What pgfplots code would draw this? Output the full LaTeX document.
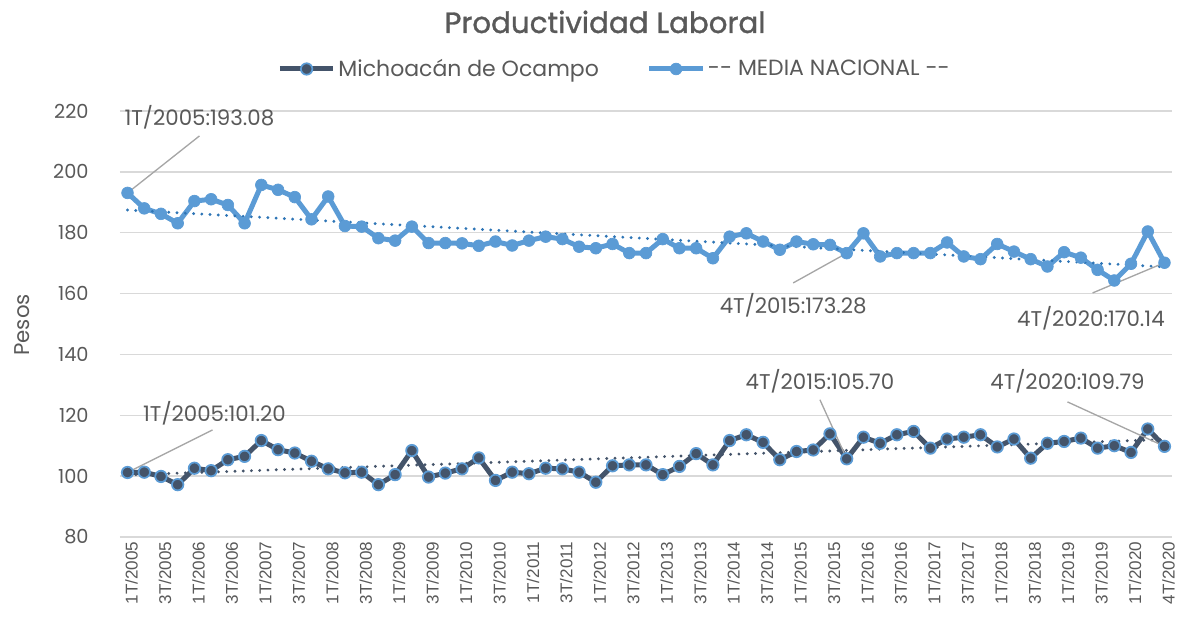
\documentclass[border=0pt]{standalone}
\usepackage{fontspec}
\setmainfont{Liberation Sans}
\newfontfamily\popp{Poppins}
\newfontfamily\poppt[FakeBold=1.2]{Poppins}
\usepackage{pgfplots}
\usepackage{pgfplotstable}
\pgfplotsset{compat=1.18}
\definecolor{cblue}{HTML}{5B9BD5}
\definecolor{cdark}{HTML}{44546A}
\definecolor{ctrend}{HTML}{2E75B6}
\definecolor{cgrid}{HTML}{D9D9D9}
\definecolor{ctext}{HTML}{595959}
\definecolor{clead}{HTML}{A6A6A6}

\pgfplotstableread{
idx blue dark
0 193.08 101.20
1 188.0 101.3
2 186.2 99.9
3 183.1 97.2
4 190.4 102.6
5 191.0 101.8
6 189.1 105.4
7 183.1 106.5
8 195.7 111.7
9 194.1 108.7
10 191.7 107.6
11 184.4 104.9
12 191.9 102.4
13 182.2 101.1
14 182.0 101.3
15 178.2 97.2
16 177.4 100.5
17 182.0 108.4
18 176.6 99.7
19 176.6 101.0
20 176.5 102.4
21 175.7 106.0
22 177.1 98.6
23 175.8 101.3
24 177.4 100.8
25 178.7 102.6
26 177.9 102.4
27 175.4 101.3
28 174.9 98.0
29 176.3 103.4
30 173.3 103.7
31 173.3 103.7
32 177.9 100.5
33 174.9 103.2
34 174.9 107.4
35 171.6 103.7
36 178.7 111.7
37 179.8 113.6
38 177.1 111.1
39 174.4 105.4
40 177.1 108.1
41 176.2 108.6
42 176.0 113.9
43 173.28 105.70
44 179.8 112.8
45 172.2 110.8
46 173.3 113.6
47 173.3 114.7
48 173.3 109.2
49 176.8 112.2
50 172.2 112.8
51 171.3 113.6
52 176.3 109.6
53 173.8 112.2
54 171.3 105.9
55 168.9 110.8
56 173.6 111.4
57 171.8 112.5
58 167.8 109.2
59 164.3 110.0
60 169.8 107.8
61 180.4 115.5
62 170.14 109.79
}\datatab

\begin{document}
\begin{tikzpicture}[x=1pt,y=1pt]
\begin{axis}[
  at={(0,0)}, anchor=south west,
  scale only axis, width=789pt, height=319.5pt,
  xmin=-0.45, xmax=62.45, ymin=80, ymax=220,
  ytick={80,100,...,220},
  xtick={0,2,...,62},
  xticklabels={1T/2005,3T/2005,1T/2006,3T/2006,1T/2007,3T/2007,1T/2008,3T/2008,1T/2009,3T/2009,1T/2010,3T/2010,1T/2011,3T/2011,1T/2012,3T/2012,1T/2013,3T/2013,1T/2014,3T/2014,1T/2015,3T/2015,1T/2016,3T/2016,1T/2017,3T/2017,1T/2018,3T/2018,1T/2019,3T/2019,1T/2020,4T/2020},
  x tick label style={rotate=90, anchor=east, font=\fontsize{12.8}{14}\selectfont, text=ctext, yshift=-3pt},
  y tick label style={font=\popp\fontsize{14.5}{16}\selectfont, text=ctext, xshift=-20pt},
  /pgf/number format/assume math mode=true,
  ymajorgrids, grid style={cgrid, line width=1.1pt},
  axis line style={draw=none},
  major tick length=0pt,
  clip=false,
  legend columns=2,
  legend style={at={(0.4705,1.0986)}, anchor=center, draw=none, fill=none,
    font=\popp\fontsize{16.5}{19}\selectfont, text=ctext,
    /tikz/every even column/.append style={column sep=34pt},
    inner sep=0pt},
  legend image code/.code={\draw[#1, mark repeat=2, mark phase=2] plot coordinates {(0pt,0pt)(20pt,0pt)(40pt,0pt)};},
]
\addplot[cdark, line width=3.75pt, mark=*, mark size=4.3pt, mark options={fill=cdark, draw=cblue, line width=1.3pt}] table[x=idx, y=dark] {\datatab};
\addlegendentry{Michoacán de Ocampo}
\addplot[cblue, line width=3.75pt, mark=*, mark size=4.4pt, mark options={fill=cblue, draw=cblue, line width=0.5pt}] table[x=idx, y=blue] {\datatab};
\addlegendentry{-- MEDIA NACIONAL --}
\addplot[ctrend, line width=2.4pt, line cap=round, dash pattern=on 0pt off 6.2pt, forget plot] table[x=idx, y={create col/linear regression={y=blue}}] {\datatab};
\addplot[cdark, line width=2.4pt, line cap=round, dash pattern=on 0pt off 6.2pt, forget plot] table[x=idx, y={create col/linear regression={y=dark}}] {\datatab};

\draw[clead, line width=1pt] (axis cs:0,193.08) -- (axis cs:4.30,211.8);
\node[font=\popp\fontsize{16}{18}\selectfont, text=ctext] at (axis cs:4.30,218.0) {1T/2005:193.08};
\draw[clead, line width=1pt] (axis cs:43,173.28) -- (axis cs:39.8,163.5);
\node[font=\popp\fontsize{16}{18}\selectfont, text=ctext] at (axis cs:39.8,156.0) {4T/2015:173.28};
\draw[clead, line width=1pt] (axis cs:62,170.14) -- (axis cs:57.7,160.2);
\node[font=\popp\fontsize{16}{18}\selectfont, text=ctext] at (axis cs:57.6,152.0) {4T/2020:170.14};
\draw[clead, line width=1pt] (axis cs:0,101.20) -- (axis cs:5.08,115.2);
\node[font=\popp\fontsize{16}{18}\selectfont, text=ctext] at (axis cs:5.2,120.5) {1T/2005:101.20};
\draw[clead, line width=1pt] (axis cs:43,105.70) -- (axis cs:41.4,125.1);
\node[font=\popp\fontsize{16}{18}\selectfont, text=ctext] at (axis cs:41.4,131.3) {4T/2015:105.70};
\draw[clead, line width=1pt] (axis cs:62,109.79) -- (axis cs:56.2,124.4);
\node[font=\popp\fontsize{16}{18}\selectfont, text=ctext] at (axis cs:56.2,131.3) {4T/2020:109.79};

\node[font=\poppt\fontsize{22}{26}\selectfont, text=ctext] at (rel axis cs:0.461,1.209) {Productividad Laboral};
\node[font=\popp\fontsize{16}{18}\selectfont, text=ctext, rotate=90] at (rel axis cs:-0.0932,0.498) {Pesos};
\end{axis}
\pgfresetboundingbox
\path[use as bounding box] (-90,-76.5) rectangle (794.25,402.75);
\end{tikzpicture}
\end{document}
